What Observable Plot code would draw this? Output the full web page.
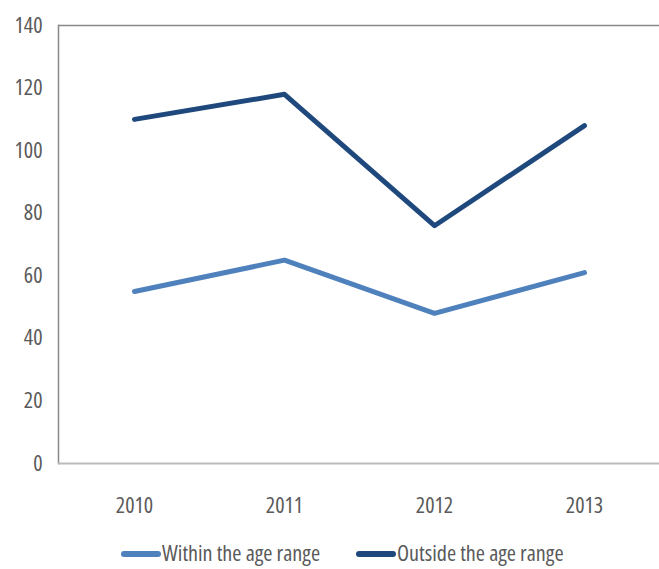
<!DOCTYPE html>
<html>
<head>
<meta charset="utf-8">
<script src="https://cdn.jsdelivr.net/npm/d3@7"></script>
<script src="https://cdn.jsdelivr.net/npm/@observablehq/plot@0.6"></script>
<style>
  body { margin: 0; background: #fff; font-family: "Open Sans", sans-serif; font-stretch: condensed; font-weight: 400; }
  svg text { font-family: "Open Sans", sans-serif !important; font-stretch: condensed; font-weight: 400; font-size: 22px !important; fill: #5a5a5a; }
  #legend { position: relative; height: 49px; width: 659px; }
  .item { position: absolute; top: 20px; display: flex; align-items: center; font-size: 22.2px; color: #5a5a5a; line-height: 26px; }
  .sw { width: 40px; height: 6px; border-radius: 3px; margin-right: 1px; margin-top: 2px; }
</style>
</head>
<body>
<div id="chart"></div>
<div id="legend"></div>
<script>
const years = ["2010", "2011", "2012", "2013"];
const within = [55, 65, 48, 61];
const outside = [110, 118, 76, 108];
const seriesNames = ["Within the age range", "Outside the age range"];
const colors = ["#4F81BD", "#1F497D"];
const yTicks = [0, 20, 40, 60, 80, 100, 120, 140];

const data = [];
years.forEach((y, i) => {
  data.push({year: y, value: within[i], series: seriesNames[0]});
  data.push({year: y, value: outside[i], series: seriesNames[1]});
});

const chart = Plot.plot({
  width: 659,
  height: 520,
  marginLeft: 58,
  marginRight: 0,
  marginTop: 25,
  marginBottom: 57,
  style: {background: "#fff"},
  x: {type: "point", domain: years, padding: 0.5, label: null},
  y: {domain: [0, 140], ticks: yTicks, label: null},
  color: {domain: seriesNames, range: colors},
  marks: [
    Plot.ruleY([140], {stroke: "#888", strokeWidth: 1.5}),
    Plot.axisX({tickSize: 0, tickPadding: 34}),
    Plot.axisY({ticks: yTicks, tickSize: 0, tickPadding: 16}),
    Plot.frame({anchor: "left", stroke: "#888", strokeWidth: 1.5}),
    Plot.ruleY([0], {stroke: "#bbb", strokeWidth: 2}),
    Plot.line(data, {x: "year", y: "value", z: "series", stroke: "series", strokeWidth: 5, strokeLinecap: "round", strokeLinejoin: "round"})
  ]
});
document.getElementById("chart").appendChild(chart);

const legend = document.getElementById("legend");
const lefts = [121, 356];
seriesNames.forEach((name, i) => {
  const item = document.createElement("div");
  item.className = "item";
  item.style.left = lefts[i] + "px";
  item.innerHTML = `<span class="sw" style="background:${colors[i]}"></span><span>${name}</span>`;
  legend.appendChild(item);
});
</script>
</body>
</html>
